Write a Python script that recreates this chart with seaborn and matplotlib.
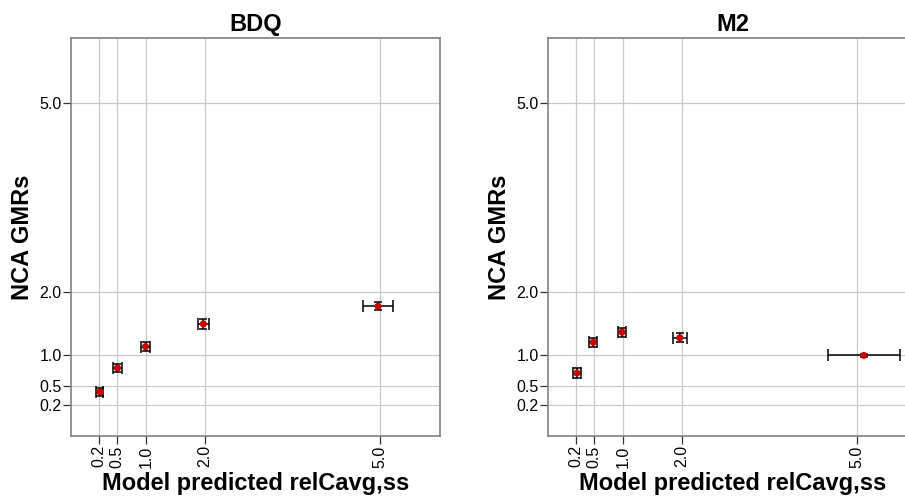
import numpy as np
import pandas as pd
import matplotlib
matplotlib.use("Agg")
import matplotlib.pyplot as plt
import seaborn as sns

# values
panels = ["BDQ", "M2"]
ticks = [0.2, 0.5, 1.0, 2.0, 5.0]
tick_labels = ["0.2", "0.5", "1.0", "2.0", "5.0"]

bdq_x = [0.21, 0.51, 0.99, 1.98, 4.97]
bdq_y = [0.41, 0.79, 1.13, 1.49, 1.77]
bdq_xerr = [0.06, 0.07, 0.07, 0.09, 0.25]
bdq_yerr = [0.07, 0.07, 0.07, 0.08, 0.06]

m2_x = [0.21, 0.49, 0.98, 1.97, 5.12]
m2_y = [0.71, 1.20, 1.36, 1.27, 0.99]
m2_xerr = [0.07, 0.07, 0.07, 0.12, 0.62]
m2_yerr = [0.08, 0.07, 0.07, 0.07, 0.03]

df = pd.DataFrame({
    "panel": ["BDQ"] * 5 + ["M2"] * 5,
    "pred": bdq_x + m2_x,
    "gmr": bdq_y + m2_y,
    "xerr": bdq_xerr + m2_xerr,
    "yerr": bdq_yerr + m2_yerr,
})

sns.set_theme(style="whitegrid")
plt.rcParams["font.family"] = ["Liberation Sans", "DejaVu Sans"]
plt.rcParams["text.color"] = "black"
plt.rcParams["axes.labelcolor"] = "black"

fig = plt.figure(figsize=(9.05, 4.99), dpi=100)
W, H = 905, 499
ax_w = 369 / W
ax_b = (H - 436) / H
ax_h = 398 / H
axes = [fig.add_axes([71 / W, ax_b, ax_w, ax_h]),
        fig.add_axes([548 / W, ax_b, ax_w, ax_h])]

for ax, name in zip(axes, panels):
    d = df[df["panel"] == name]
    # horizontal bars (taller caps)
    ax.errorbar(d["pred"], d["gmr"], xerr=d["xerr"], fmt="none",
                ecolor="black", elinewidth=1.1, capsize=4.2, capthick=1.1, zorder=3)
    # vertical bars
    ax.errorbar(d["pred"], d["gmr"], yerr=d["yerr"], fmt="none",
                ecolor="black", elinewidth=1.1, capsize=3.2, capthick=1.1, zorder=3)
    sns.scatterplot(data=d, x="pred", y="gmr", ax=ax, color="#C80000",
                    s=26, edgecolor="none", zorder=4, legend=False)

    ax.set_xlim(-0.285, 6.03)
    ax.set_ylim(-0.29, 6.03)
    ax.set_xticks(ticks)
    ax.set_xticklabels(tick_labels, rotation=90)
    ax.set_yticks(ticks)
    ax.set_yticklabels(tick_labels)

    ax.grid(True, color="#C8C8C8", linewidth=0.9)
    ax.set_axisbelow(True)
    for sp in ax.spines.values():
        sp.set_color("#808080")
        sp.set_linewidth(1.2)
    ax.tick_params(axis="both", which="major", length=5.5, width=0.9,
                   color="#333333", labelsize=11.5, labelcolor="black", pad=1.2,
                   bottom=True, left=True)

    ax.set_title(name, fontsize=17, fontweight="bold", pad=5)
    ax.set_xlabel("Model predicted relCavg,ss", fontsize=17, fontweight="bold", labelpad=3)
    ax.set_ylabel("NCA GMRs", fontsize=17, fontweight="bold", labelpad=4)

fig.savefig("out.png", dpi=100)
